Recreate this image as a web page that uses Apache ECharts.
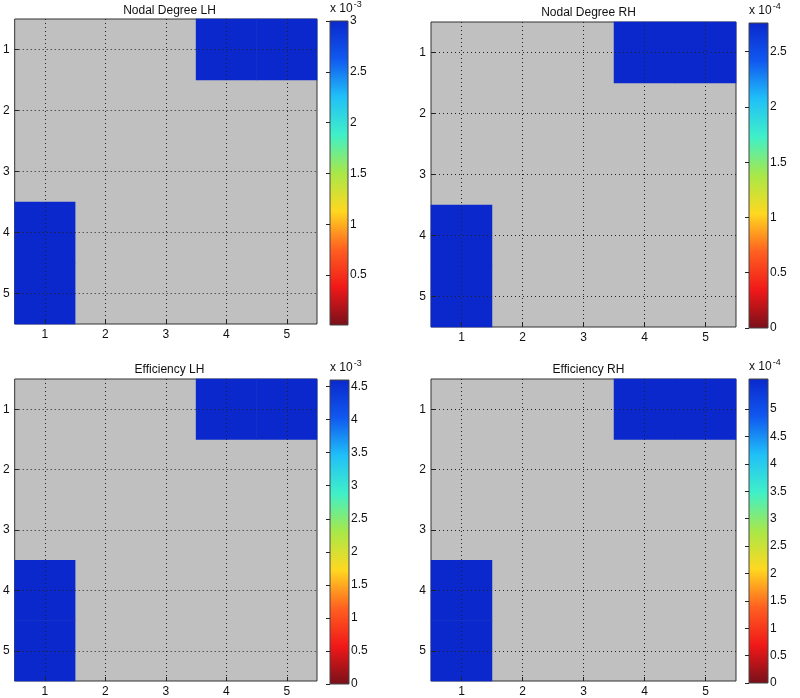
<!DOCTYPE html>
<html>
<head>
<meta charset="utf-8">
<script src="https://cdn.jsdelivr.net/npm/echarts@6/dist/echarts.min.js"></script>
<style>
  html, body { margin: 0; background: #fff; }
  #chart { width: 800px; height: 698px; }
</style>
</head>
<body>
<div id="chart"></div>
<script>
// --- data ---
const tickLabels = ['1', '2', '3', '4', '5']
const panelTitles = ['Nodal Degree LH', 'Nodal Degree RH', 'Efficiency LH', 'Efficiency RH']

// null = no value (grey background)
const nodalDegreeLH = [
  [null, null, null, 3.0e-3, 3.0e-3],
  [null, null, null, null, null],
  [null, null, null, null, null],
  [3.0e-3, null, null, null, null],
  [3.0e-3, null, null, null, null]
]
const nodalDegreeRH = [
  [null, null, null, 2.76e-4, 2.76e-4],
  [null, null, null, null, null],
  [null, null, null, null, null],
  [2.76e-4, null, null, null, null],
  [2.76e-4, null, null, null, null]
]
const efficiencyLH = [
  [null, null, null, 4.6e-3, 4.6e-3],
  [null, null, null, null, null],
  [null, null, null, null, null],
  [4.6e-3, null, null, null, null],
  [4.6e-3, null, null, null, null]
]
const efficiencyRH = [
  [null, null, null, 5.55e-4, 5.55e-4],
  [null, null, null, null, null],
  [null, null, null, null, null],
  [5.55e-4, null, null, null, null],
  [5.55e-4, null, null, null, null]
]
const matrices = [nodalDegreeLH, nodalDegreeRH, efficiencyLH, efficiencyRH]

const colorbarMin = [1e-5, 0, 0, 0]
const colorbarMax = [3.0e-3, 2.76e-4, 4.6e-3, 5.55e-4]
const colorbarExponent = [-3, -4, -3, -4]
const colorbarTicks = [
  [0.5, 1, 1.5, 2, 2.5, 3],
  [0, 0.5, 1, 1.5, 2, 2.5],
  [0, 0.5, 1, 1.5, 2, 2.5, 3, 3.5, 4, 4.5],
  [0, 0.5, 1, 1.5, 2, 2.5, 3, 3.5, 4, 4.5, 5]
]

// --- layout / style ---
// plot sizes are multiples of 5 so the cells land on whole pixels (no seams)
const plotBoxes = [
  { left: 12, top: 19, width: 305, height: 305 },
  { left: 431, top: 22, width: 305, height: 305 },
  { left: 12, top: 379, width: 305, height: 305 },
  { left: 431, top: 379, width: 305, height: 305 }
]
const barBoxes = [
  { left: 330, top: 20, width: 18, height: 305 },
  { left: 749, top: 23, width: 19, height: 305 },
  { left: 330, top: 380, width: 19, height: 304 },
  { left: 749, top: 379, width: 19, height: 304 }
]
const jetColors = ['#78101a', '#f01818', '#ff6020', '#ffd820', '#a8e848', '#40f0c8', '#20c0f8', '#1058f0', '#0a28cc']
const FONT = '"Liberation Sans", Arial, sans-serif'

const chart = echarts.init(document.getElementById('chart'))

function scaled(v, i) {
  return parseFloat((v / Math.pow(10, colorbarExponent[i])).toPrecision(6))
}

function barGradient() {
  return new echarts.graphic.LinearGradient(0, 1, 0, 0,
    jetColors.map((c, k) => ({ offset: k / (jetColors.length - 1), color: c })))
}

const grid = [], xAxis = [], yAxis = [], series = [], visualMap = [], title = []

plotBoxes.forEach((b, i) => {
  grid.push({ ...b, show: true, backgroundColor: '#c0c0c0', borderColor: '#333', borderWidth: 1 })
  title.push({
    text: panelTitles[i],
    left: b.left + b.width / 2,
    top: Math.max(0, b.top - 20),
    textAlign: 'center',
    textStyle: { fontFamily: FONT, fontSize: 12, fontWeight: 'normal', color: '#111' }
  })
  const catAxis = {
    type: 'category',
    gridIndex: i,
    data: tickLabels,
    z: 3,
    axisLine: { show: false },
    axisTick: { show: true, inside: true, alignWithLabel: true, length: 4, lineStyle: { color: '#222' } },
    axisLabel: { color: '#111', fontSize: 12, fontFamily: FONT, margin: 5 },
    splitLine: { show: true, alignWithLabel: true, lineStyle: { color: '#222', type: [1, 3], width: 1 } }
  }
  xAxis.push({ ...catAxis, position: 'bottom' })
  yAxis.push({ ...catAxis, position: 'left', inverse: true })

  const data = []
  matrices[i].forEach((row, r) => {
    row.forEach((v, c) => {
      if (v !== null) data.push([c, r, v])
    })
  })
  series.push({
    type: 'heatmap',
    xAxisIndex: i,
    yAxisIndex: i,
    data: data,
    emphasis: { disabled: true },
    progressive: 0
  })
  visualMap.push({
    type: 'continuous',
    show: false,
    seriesIndex: i,
    dimension: 2,
    min: colorbarMin[i],
    max: colorbarMax[i],
    inRange: { color: jetColors }
  })
})

barBoxes.forEach((b, i) => {
  const gi = plotBoxes.length + i
  grid.push({ ...b, show: true, backgroundColor: barGradient(), borderColor: '#444', borderWidth: 1 })
  xAxis.push({ type: 'value', gridIndex: gi, show: false })
  yAxis.push({
    type: 'value',
    gridIndex: gi,
    position: 'right',
    min: scaled(colorbarMin[i], i),
    max: scaled(colorbarMax[i], i),
    axisLine: { show: false },
    splitLine: { show: false },
    axisTick: { show: true, inside: true, length: 4, customValues: colorbarTicks[i], lineStyle: { color: '#222' } },
    axisLabel: {
      customValues: colorbarTicks[i],
      color: '#111', fontSize: 12, fontFamily: FONT, margin: 2
    },
    name: '{x|x 10}{e|' + colorbarExponent[i] + '}',
    nameLocation: 'end',
    nameGap: 3,
    nameTextStyle: {
      align: 'left',
      verticalAlign: 'bottom',
      rich: {
        x: { fontSize: 12, fontFamily: FONT, color: '#111' },
        e: { fontSize: 9, fontFamily: FONT, color: '#111', padding: [0, 0, 9, 1] }
      }
    }
  })
})

chart.setOption({
  animation: false,
  backgroundColor: '#fff',
  title,
  grid,
  xAxis,
  yAxis,
  visualMap,
  series
})
</script>
</body>
</html>
